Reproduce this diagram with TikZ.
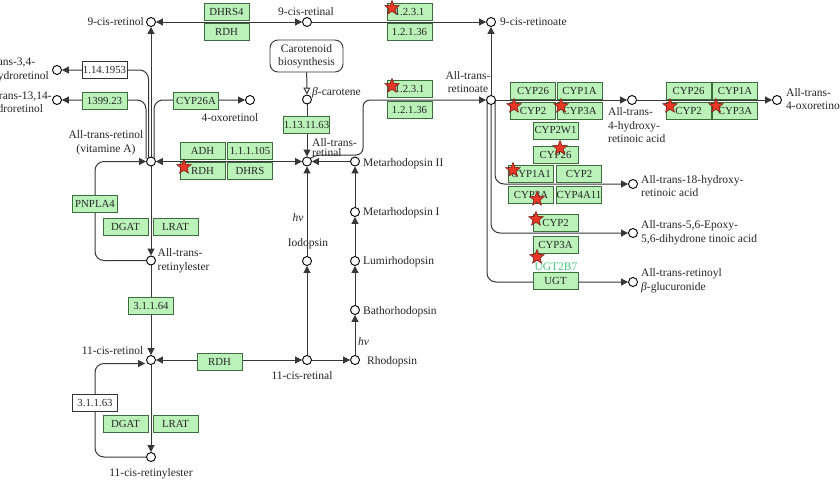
\documentclass[tikz,border=0pt]{standalone}
\usepackage{fontspec}
\setmainfont{Liberation Serif}
\usetikzlibrary{arrows.meta,shapes.geometric,backgrounds,calc}
\definecolor{encfill}{RGB}{186,242,186}
\definecolor{encdraw}{RGB}{60,110,60}
\definecolor{ln}{RGB}{55,55,55}
\definecolor{starred}{RGB}{235,55,40}
\definecolor{stardraw}{RGB}{120,30,20}
\definecolor{ugtgreen}{RGB}{70,200,120}
\begin{document}
\begin{tikzpicture}[x=1pt,y=-1pt,
  font=\fontsize{11.5}{13.5}\selectfont,
  cpd/.style={circle,draw=black,fill=white,line width=0.9pt,inner sep=0pt,minimum size=9pt},
  enz/.style={rectangle,draw=encdraw,fill=encfill,line width=0.9pt,inner sep=0pt,minimum width=45pt,minimum height=17pt,text=black!85,font=\fontsize{10.8}{12}\selectfont},
  wenz/.style={enz,fill=white,draw=black!80},
  lbl/.style={inner sep=0pt,text=black!85},
  rx/.style={draw=ln,line width=1pt,-{Triangle[length=7pt,width=7pt]}},
  rxb/.style={draw=ln,line width=1pt,{Triangle[length=7pt,width=7pt]}-{Triangle[length=7pt,width=7pt]}},
  kstar/.style={star,star points=5,star point ratio=2.3,minimum size=15pt,inner sep=0pt,fill=starred,draw=stardraw,line width=0.6pt}
]
\useasboundingbox (0,0) rectangle (840,480);
% compounds
\node[cpd] (c9rol) at (151,22) {};
\node[cpd] (c9ral) at (307,22) {};
\node[cpd] (c9rate) at (491,22) {};
\node[cpd] (dde) at (57,70) {};
\node[cpd] (dhr) at (57,100) {};
\node[cpd] (oxol) at (250,100) {};
\node[cpd] (atrol) at (151,161.5) {};
\node[cpd] (bcar) at (307,99.5) {};
\node[cpd] (atral) at (307,161.5) {};
\node[cpd] (mr2) at (355,161.5) {};
\node[cpd] (mr1) at (355,212) {};
\node[cpd] (lumi) at (355,261) {};
\node[cpd] (batho) at (355,310) {};
\node[cpd] (rhod) at (355,360) {};
\node[cpd] (iodo) at (307,261) {};
\node[cpd] (c11ral) at (307,360) {};
\node[cpd] (c11rol) at (151,360) {};
\node[cpd] (c11re) at (151,457) {};
\node[cpd] (atre) at (151,260.5) {};
\node[cpd] (atrate) at (491,100) {};
\node[cpd] (hra) at (632,100) {};
\node[cpd] (oxa) at (777,100) {};
\node[cpd] (h18) at (633,184) {};
\node[cpd] (epo) at (633,233) {};
\node[cpd] (glu) at (633,282) {};
% labels
\node[lbl,anchor=east] (l9rol) at (144,22) {9-cis-retinol};
\node[lbl] (l9ral) at (306,12) {9-cis-retinal};
\node[lbl,anchor=west] (l9rate) at (500,22) {9-cis-retinoate};
\node[lbl,anchor=west,align=left] (ldde) at (-28,69.5) {All-trans-3,4-\\didehydroretinol};
\node[lbl,anchor=west,align=left] (ldhr) at (-23,103) {All-trans-13,14-\\dihydroretinol};
\node[lbl,align=center] (latrol) at (106,142.5) {All-trans-retinol\\(vitamine A)};
\node[lbl] (loxol) at (230,117.5) {4-oxoretinol};
\node[draw=black!80,fill=white,rounded corners=8pt,line width=0.9pt,minimum width=73pt,minimum height=32pt,inner sep=0pt,align=center,text=black!85] (carot) at (306.5,56) {Carotenoid\\biosynthesis};
\node[lbl,anchor=west] (lbcar) at (312,93) {\textit{β}-carotene};
\node[lbl,anchor=west,align=left,font=\fontsize{11.5}{10}\selectfont] (latral) at (312,147.5) {All-trans-\\retinal};
\node[lbl,align=center] (latrate) at (468,82) {All-trans-\\retinoate};
\node[lbl,anchor=west] (lmr2) at (363,164) {Metarhodopsin II};
\node[lbl,anchor=west] (lmr1) at (363,213) {Metarhodopsin I};
\node[lbl,anchor=west] (llumi) at (363,261.5) {Lumirhodopsin};
\node[lbl,anchor=west] (lbatho) at (363,311.5) {Bathorhodopsin};
\node[lbl,anchor=west] (lrhod) at (367,362) {Rhodopsin};
\node[lbl,anchor=west] (hv2) at (358,342) {\textit{hv}};
\node[lbl] (hv1) at (298,218) {\textit{hv}};
\node[lbl] (liodo) at (308,244) {Iodopsin};
\node[lbl] (lc11ral) at (302,376) {11-cis-retinal};
\node[lbl,anchor=east] (lc11rol) at (143.5,351) {11-cis-retinol};
\node[lbl] (lc11re) at (151,474) {11-cis-retinylester};
\node[lbl,anchor=west,align=left] (latre) at (157.5,260.5) {All-trans-\\retinylester};
\node[lbl,anchor=west,align=left] (lhra) at (608,125.5) {All-trans-\\4-hydroxy-\\retinoic acid};
\node[lbl,anchor=west,align=left] (loxa) at (786,99) {All-trans-\\4-oxoretinoic acid};
\node[lbl,anchor=west,align=left] (lh18) at (641,186) {All-trans-18-hydroxy-\\retinoic acid};
\node[lbl,anchor=west,align=left] (lepo) at (641,232.5) {All-trans-5,6-Epoxy-\\5,6-dihydrone tinoic acid};
\node[lbl,anchor=west,align=left] (lglu) at (641,280.5) {All-trans-retinoyl\\\textit{β}-glucuronide};
% enzymes
\node[enz] (dhrs4) at (226.5,12) {DHRS4};
\node[enz] (rdh9) at (226.5,32) {RDH};
\node[enz] (e1231a) at (409.5,12) {1.2.3.1};
\node[enz] (e12136a) at (409.5,32) {1.2.1.36};
\node[wenz] (e114) at (104.5,69.5) {1.14.1953};
\node[enz] (e1399) at (104.5,101) {1399.23};
\node[enz] (cyp26a) at (196,101) {CYP26A};
\node[enz] (adh) at (202.5,151) {ADH};
\node[enz] (e11105) at (250,151) {1.1.1.105};
\node[enz] (rdh) at (202.5,171) {RDH};
\node[enz] (dhrs) at (250,171) {DHRS};
\node[enz] (e1311) at (306.5,124.5) {1.13.11.63};
\node[enz] (e1231b) at (409.5,89) {1.2.3.1};
\node[enz] (e12136b) at (409.5,110) {1.2.1.36};
\node[enz] (pnpla) at (95,204) {PNPLA4};
\node[enz] (dgat1) at (125.5,226.5) {DGAT};
\node[enz] (lrat1) at (175.5,226.5) {LRAT};
\node[enz] (e31164) at (151,305.5) {3.1.1.64};
\node[enz] (rdh11) at (219.5,362) {RDH};
\node[wenz] (e31163) at (95,402.5) {3.1.1.63};
\node[enz] (dgat2) at (125.5,423.5) {DGAT};
\node[enz] (lrat2) at (175.5,423.5) {LRAT};
\node[enz] (cyp26x) at (533,90.5) {CYP26};
\node[enz] (cyp1ax) at (579.5,90.5) {CYP1A};
\node[enz] (cyp2x) at (533,111) {CYP2};
\node[enz] (cyp3ax) at (579.5,111) {CYP3A};
\node[enz] (cyp2w1) at (555.5,130.5) {CYP2W1};
\node[enz] (cyp26y) at (555.5,154.5) {CYP26};
\node[enz] (cyp1a1) at (531,173.5) {CYP1A1};
\node[enz] (cyp2y) at (579,173.5) {CYP2};
\node[enz] (cyp3ay) at (531,194.5) {CYP3A};
\node[enz] (cyp4a11) at (579,194.5) {CYP4A11};
\node[enz] (cyp2z) at (555.5,222.5) {CYP2};
\node[enz] (cyp3az) at (555.5,244.5) {CYP3A};
\node[lbl,text=ugtgreen] (lugt) at (556,267) {UGT2B7};
\node[enz] (ugt) at (555.5,280.5) {UGT};
\node[enz] (cyp26w) at (688.5,90.5) {CYP26};
\node[enz] (cyp1aw) at (735,90.5) {CYP1A};
\node[enz] (cyp2w) at (688.5,111) {CYP2};
\node[enz] (cyp3aw) at (735,111) {CYP3A};
% stars
\node[kstar] (s1) at (392,8) {};
\node[kstar] (s2) at (392,86) {};
\node[kstar] (s3) at (184,167) {};
\node[kstar] (s4) at (514,106) {};
\node[kstar] (s5) at (561,106) {};
\node[kstar] (s6) at (670,106) {};
\node[kstar] (s7) at (716,106) {};
\node[kstar] (s8) at (560,148) {};
\node[kstar] (s9) at (513,170) {};
\node[kstar] (s10) at (537,199) {};
\node[kstar] (s11) at (536,219) {};
\node[kstar] (s12) at (537,257) {};
% connectors
\begin{pgfonlayer}{background}
\fill[white] (0,0) rectangle (840,480);
\draw[rxb] (c9rol) -- (c9ral);
\draw[rx] (c9ral) -- (c9rate);
\draw[rx] (atrate) -- (c9rate);
\draw[rx] (atrol) -- (c9rol);
\draw[rx,rounded corners=9pt] ($(atrol)+(-2.5,-4)$) |- (dde);
\draw[rx,rounded corners=9pt] ($(atrol)+(-5,-3)$) |- (dhr);
\draw[rx,rounded corners=9pt] ($(atrol)+(3,-4)$) |- (oxol);
\draw[rxb] (atrol) -- (atral);
\draw[draw=ln,line width=1pt,-{Triangle[length=7pt,width=7pt,fill=white]}] (carot) -- (bcar);
\draw[rx] (bcar) -- (atral);
\draw[rx] (mr2) -- (atral);
\draw[rx] (iodo) -- (atral);
\draw[rx] (c11ral) -- (iodo);
\draw[rx] (c11ral) -- (rhod);
\draw[rx] (rhod) -- (batho);
\draw[rx] (batho) -- (lumi);
\draw[rx] (lumi) -- (mr1);
\draw[rx] (mr1) -- (mr2);
\draw[rx,rounded corners=7pt] (atral.north east) -- ++(3,-3) -- (363,155) -- (363,100) -- (atrate);
\draw[rx] (atrate) -- (hra);
\draw[rx] (hra) -- (oxa);
\draw[rx,rounded corners=9pt] ($(atrate)+(4,0)$) |- (h18);
\draw[rx,rounded corners=9pt] (atrate) |- (epo);
\draw[rx,rounded corners=9pt] ($(atrate)+(-4,0)$) |- (glu);
\draw[rx] (atrol) -- (atre);
\draw[rx,rounded corners=9pt] (atre.west) -| (pnpla.center) |- (atrol.west);
\draw[rx] (atre) -- (c11rol);
\draw[rxb] (c11rol) -- (c11ral);
\draw[rx] (c11rol) -- (c11re);
\draw[rx,rounded corners=9pt] (c11re.west) -| (e31163.center) |- ($(c11rol.west)+(-1,3.5)$);
\end{pgfonlayer}
\end{tikzpicture}
\end{document}
